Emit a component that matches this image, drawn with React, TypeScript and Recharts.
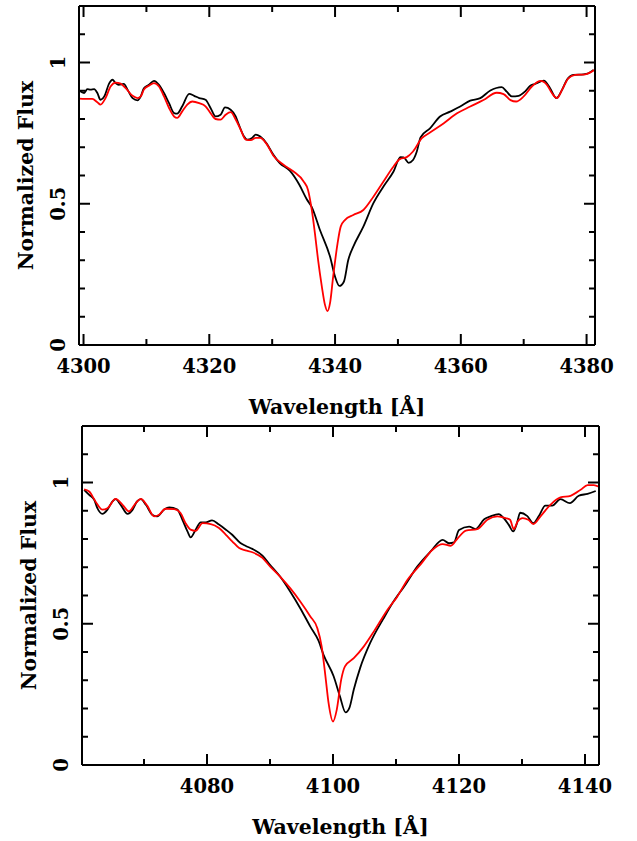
import React from 'react';
import { LineChart, Line, XAxis, YAxis } from 'recharts';

// ---------- Top panel (H-gamma region) ----------
const topObsWave = [
  4299.3, 4300.1, 4300.6, 4301.1, 4301.7, 4302.2, 4302.7, 4303.3, 4304.1, 4304.6,
  4305.1, 4305.6, 4306.4, 4307.0, 4307.8, 4308.6, 4309.1, 4309.6, 4310.4, 4311.2,
  4312.0, 4312.8, 4313.6, 4314.4, 4314.9, 4315.7, 4316.8, 4317.6, 4318.4, 4319.4,
  4320.2, 4321.0, 4321.8, 4322.5, 4323.4, 4324.2, 4324.7, 4325.5, 4326.0, 4326.8,
  4327.4, 4328.1, 4329.1, 4330.2, 4331.2, 4332.8, 4334.3, 4335.5, 4336.3, 4337.6,
  4339.2, 4340.0, 4340.7, 4341.4, 4342.1, 4342.9, 4344.5, 4346.1, 4347.7, 4349.3,
  4350.4, 4350.9, 4351.7, 4352.4, 4353.0, 4353.6, 4355.1, 4356.7, 4358.3, 4359.9,
  4361.5, 4363.1, 4364.7, 4366.5, 4367.3, 4368.1, 4369.2, 4370.2, 4371.0, 4371.8,
  4373.2, 4374.2, 4375.2, 4376.1, 4376.9, 4377.9, 4379.5, 4380.3, 4381.1,
];
const topObsFlux = [
  0.901, 0.892, 0.906, 0.904, 0.906, 0.892, 0.868, 0.880, 0.927, 0.939,
  0.927, 0.921, 0.924, 0.904, 0.874, 0.866, 0.880, 0.909, 0.921, 0.935,
  0.921, 0.892, 0.856, 0.821, 0.819, 0.845, 0.889, 0.882, 0.874, 0.868,
  0.839, 0.809, 0.815, 0.841, 0.833, 0.809, 0.780, 0.739, 0.727, 0.733,
  0.745, 0.738, 0.714, 0.673, 0.644, 0.617, 0.568, 0.516, 0.488, 0.407,
  0.313, 0.242, 0.209, 0.224, 0.301, 0.348, 0.419, 0.502, 0.561, 0.614,
  0.665, 0.664, 0.645, 0.655, 0.685, 0.735, 0.767, 0.809, 0.826, 0.844,
  0.865, 0.874, 0.901, 0.913, 0.897, 0.880, 0.882, 0.897, 0.917, 0.924,
  0.936, 0.909, 0.874, 0.903, 0.940, 0.956, 0.958, 0.962, 0.974,
];
const topModelWave = [
  4299.3, 4300.3, 4301.4, 4302.2, 4302.7, 4303.5, 4304.3, 4305.1, 4305.9, 4306.7,
  4307.8, 4308.6, 4309.1, 4309.6, 4310.4, 4311.2, 4312.0, 4312.8, 4313.6, 4314.4,
  4314.9, 4315.7, 4316.5, 4317.3, 4318.4, 4319.4, 4320.2, 4321.0, 4321.8, 4322.6,
  4323.4, 4324.2, 4325.0, 4325.8, 4326.6, 4327.4, 4328.1, 4329.1, 4330.2, 4331.8,
  4333.4, 4335.0, 4335.7, 4336.3, 4336.8, 4337.3, 4337.9, 4338.4, 4338.8, 4339.2,
  4339.7, 4340.4, 4340.9, 4341.6, 4342.9, 4344.5, 4346.1, 4347.7, 4349.3, 4350.3,
  4351.4, 4352.4, 4353.8, 4355.1, 4357.3, 4359.4, 4361.5, 4363.6, 4365.7, 4366.8,
  4367.9, 4368.8, 4370.0, 4371.3, 4372.7, 4373.7, 4374.5, 4375.3, 4376.1, 4377.1,
  4378.2, 4379.8, 4381.3,
];
const topModelFlux = [
  0.872, 0.871, 0.871, 0.859, 0.851, 0.874, 0.915, 0.929, 0.925, 0.909,
  0.882, 0.874, 0.880, 0.904, 0.918, 0.927, 0.915, 0.880, 0.839, 0.809,
  0.804, 0.827, 0.851, 0.862, 0.856, 0.845, 0.821, 0.800, 0.798, 0.815,
  0.824, 0.798, 0.762, 0.727, 0.725, 0.733, 0.733, 0.712, 0.670, 0.638,
  0.614, 0.579, 0.549, 0.478, 0.395, 0.301, 0.207, 0.142, 0.120, 0.148,
  0.242, 0.360, 0.419, 0.443, 0.460, 0.478, 0.525, 0.579, 0.632, 0.658,
  0.665, 0.685, 0.732, 0.752, 0.785, 0.820, 0.844, 0.867, 0.893, 0.888,
  0.867, 0.862, 0.880, 0.915, 0.935, 0.921, 0.891, 0.874, 0.903, 0.944,
  0.956, 0.958, 0.974,
];

// ---------- Bottom panel (H-delta region) ----------
const botObsWave = [
  4060.5, 4061.3, 4062.1, 4062.6, 4063.4, 4064.2, 4065.0, 4065.5, 4066.3, 4067.4,
  4068.2, 4068.9, 4069.5, 4070.3, 4071.3, 4072.1, 4073.2, 4074.0, 4075.3, 4076.1,
  4076.9, 4077.4, 4078.2, 4079.0, 4079.8, 4080.8, 4081.9, 4083.0, 4084.0, 4085.3,
  4086.1, 4087.2, 4088.8, 4090.0, 4091.6, 4093.2, 4094.8, 4096.4, 4097.7, 4098.5,
  4100.1, 4101.1, 4102.0, 4102.6, 4103.3, 4104.3, 4105.9, 4108.0, 4109.7, 4111.3,
  4113.4, 4115.5, 4117.4, 4118.4, 4119.2, 4120.0, 4121.6, 4122.6, 4124.0, 4125.0,
  4126.3, 4127.1, 4127.9, 4128.6, 4129.2, 4129.7, 4130.8, 4131.8, 4132.7, 4133.7,
  4134.8, 4136.1, 4137.6, 4139.0, 4140.4, 4141.7,
];
const botObsFlux = [
  0.974, 0.956, 0.939, 0.909, 0.889, 0.904, 0.933, 0.941, 0.921, 0.889,
  0.904, 0.933, 0.941, 0.921, 0.886, 0.880, 0.904, 0.912, 0.904, 0.868,
  0.827, 0.806, 0.833, 0.859, 0.859, 0.866, 0.851, 0.833, 0.815, 0.786,
  0.776, 0.765, 0.741, 0.709, 0.667, 0.614, 0.555, 0.490, 0.440, 0.390,
  0.314, 0.243, 0.186, 0.202, 0.267, 0.343, 0.432, 0.518, 0.582, 0.632,
  0.703, 0.756, 0.797, 0.785, 0.788, 0.832, 0.844, 0.835, 0.870, 0.880,
  0.888, 0.874, 0.850, 0.827, 0.856, 0.893, 0.882, 0.856, 0.882, 0.918,
  0.918, 0.941, 0.927, 0.953, 0.960, 0.970,
];
const botModelWave = [
  4060.5, 4061.3, 4062.3, 4063.4, 4064.2, 4065.5, 4066.6, 4067.6, 4068.7, 4069.5,
  4070.5, 4071.6, 4072.4, 4073.4, 4074.8, 4075.8, 4076.6, 4077.4, 4078.2, 4079.3,
  4080.6, 4081.9, 4083.0, 4084.0, 4085.1, 4086.1, 4087.2, 4088.8, 4090.0, 4091.6,
  4093.2, 4094.8, 4096.4, 4097.5, 4098.2, 4098.8, 4099.3, 4100.0, 4100.6, 4101.3,
  4101.9, 4103.3, 4104.9, 4106.5, 4108.6, 4110.2, 4111.8, 4113.9, 4115.8, 4117.4,
  4118.7, 4119.7, 4121.1, 4122.9, 4124.5, 4126.1, 4127.4, 4128.1, 4128.7, 4129.3,
  4130.1, 4131.0, 4131.8, 4133.0, 4134.5, 4136.1, 4137.7, 4139.3, 4140.4, 4141.4,
  4142.2,
];
const botModelFlux = [
  0.976, 0.968, 0.933, 0.904, 0.909, 0.942, 0.921, 0.898, 0.927, 0.942,
  0.918, 0.880, 0.886, 0.907, 0.906, 0.892, 0.856, 0.833, 0.829, 0.856,
  0.853, 0.839, 0.815, 0.792, 0.768, 0.760, 0.753, 0.733, 0.703, 0.667,
  0.626, 0.579, 0.526, 0.485, 0.420, 0.314, 0.219, 0.154, 0.196, 0.302,
  0.349, 0.378, 0.420, 0.473, 0.548, 0.596, 0.655, 0.710, 0.762, 0.782,
  0.776, 0.800, 0.830, 0.835, 0.868, 0.880, 0.874, 0.868, 0.835, 0.862,
  0.874, 0.868, 0.853, 0.882, 0.921, 0.947, 0.953, 0.974, 0.991, 0.991,
  0.985,
];

// ---------- Axes ----------
const topXDomain = [4299.28, 4381.34];
const botXDomain = [4060.16, 4142.22];
const topXTicks = [4300, 4310, 4320, 4330, 4340, 4350, 4360, 4370, 4380];
const botXTicks = [4070, 4080, 4090, 4100, 4110, 4120, 4130, 4140];
const yDomain = [0, 1.2];
const yTicks = [0, 0.1, 0.2, 0.3, 0.4, 0.5, 0.6, 0.7, 0.8, 0.9, 1.0, 1.1];
const xTitle = 'Wavelength [Å]';
const yTitle = 'Normalized Flux';

const FONT = "'DejaVu Serif', 'Liberation Serif', serif";
const TICK_FS = 19.5;
const TITLE_FS = 20.5;
const MAJOR = 11;
const MINOR = 6;
const FRAME = { stroke: '#000', strokeWidth: 2 };

const pair = (w: number[], f: number[]) => w.map((x, i) => ({ x, y: f[i] }));

const isMajorX = (v: number) => Math.round(v) % 20 === 0;
const isMajorY = (v: number) => Math.abs(v * 2 - Math.round(v * 2)) < 1e-6;
const fmtY = (v: number) => (Math.abs(v - 0.5) < 1e-6 ? '0.5' : String(Math.round(v)));

const BottomTick = (p: any) => {
  const { x, y, payload } = p;
  const major = isMajorX(payload.value);
  return (
    <g>
      <line x1={x} x2={x} y1={y} y2={y - (major ? MAJOR : MINOR)} stroke="#000" strokeWidth={2} />
      {major ? (
        <text x={x} y={y + 28} textAnchor="middle" fontFamily={FONT} fontWeight="bold" fontSize={TICK_FS} fill="#000">
          {payload.value}
        </text>
      ) : null}
    </g>
  );
};

const TopTick = (p: any) => {
  const { x, y, payload } = p;
  const major = isMajorX(payload.value);
  return <line x1={x} x2={x} y1={y} y2={y + (major ? MAJOR : MINOR)} stroke="#000" strokeWidth={2} />;
};

const LeftTick = (p: any) => {
  const { x, y, payload } = p;
  const major = isMajorY(payload.value);
  const bx = x - 14;
  return (
    <g>
      <line x1={x} x2={x + (major ? MAJOR : MINOR)} y1={y} y2={y} stroke="#000" strokeWidth={2} />
      {major ? (
        <text
          x={bx}
          y={y}
          transform={`rotate(-90 ${bx} ${y})`}
          textAnchor="middle"
          fontFamily={FONT}
          fontWeight="bold"
          fontSize={TICK_FS}
          fill="#000"
        >
          {fmtY(payload.value)}
        </text>
      ) : null}
    </g>
  );
};

const RightTick = (p: any) => {
  const { x, y, payload } = p;
  const major = isMajorY(payload.value);
  return <line x1={x} x2={x - (major ? MAJOR : MINOR)} y1={y} y2={y} stroke="#000" strokeWidth={2} />;
};

const XTitle = (props: any) => {
  const vb = props.viewBox || { x: 0, y: 0, width: 0, height: 0 };
  return (
    <text x={vb.x + vb.width / 2} y={vb.y + 68.5} textAnchor="middle" fontFamily={FONT} fontWeight="bold" fontSize={TITLE_FS} fill="#000">
      {xTitle}
    </text>
  );
};

const YTitle = (props: any) => {
  const vb = props.viewBox || { x: 0, y: 0, width: 0, height: 0 };
  const bx = vb.x + vb.width - 46;
  const cy = vb.y + vb.height / 2;
  return (
    <text x={bx} y={cy} transform={`rotate(-90 ${bx} ${cy})`} textAnchor="middle" fontFamily={FONT} fontWeight="bold" fontSize={TITLE_FS} fill="#000">
      {yTitle}
    </text>
  );
};

type PanelProps = {
  obs: { x: number; y: number }[];
  model: { x: number; y: number }[];
  domain: number[];
  xTicks: number[];
  top: number;
  height: number;
  left: number;
  right: number;
  xAxisH: number;
};

const Panel = ({ obs, model, domain, xTicks, top, height, left, right, xAxisH }: PanelProps) => (
  <div style={{ position: 'absolute', left: 0, top }}>
    <LineChart width={637} height={height} margin={{ top: 5, right, bottom: 0, left: 0 }}>
      <XAxis
        xAxisId="b"
        type="number"
        dataKey="x"
        domain={domain}
        allowDataOverflow
        ticks={xTicks}
        interval={0}
        tickSize={0}
        tickMargin={0}
        tickLine={false}
        axisLine={FRAME}
        tick={BottomTick}
        height={xAxisH}
        label={{ content: XTitle }}
      />
      <XAxis
        xAxisId="t"
        orientation="top"
        type="number"
        dataKey="x"
        domain={domain}
        allowDataOverflow
        ticks={xTicks}
        interval={0}
        tickSize={0}
        tickMargin={0}
        tickLine={false}
        axisLine={FRAME}
        tick={TopTick}
        height={1}
      />
      <YAxis
        yAxisId="l"
        type="number"
        domain={yDomain}
        allowDataOverflow
        ticks={yTicks}
        interval={0}
        tickSize={0}
        tickMargin={0}
        tickLine={false}
        axisLine={FRAME}
        tick={LeftTick}
        width={left}
        label={{ content: YTitle }}
      />
      <YAxis
        yAxisId="r"
        orientation="right"
        type="number"
        domain={yDomain}
        allowDataOverflow
        ticks={yTicks}
        interval={0}
        tickSize={0}
        tickMargin={0}
        tickLine={false}
        axisLine={FRAME}
        tick={RightTick}
        width={1}
      />
      <Line
        xAxisId="b"
        yAxisId="l"
        data={obs}
        dataKey="y"
        type="monotone"
        stroke="#000"
        strokeWidth={1.8}
        dot={false}
        activeDot={false}
        isAnimationActive={false}
      />
      <Line
        xAxisId="t"
        yAxisId="r"
        data={model}
        dataKey="y"
        type="monotone"
        stroke="#ff0000"
        strokeWidth={1.8}
        dot={false}
        activeDot={false}
        isAnimationActive={false}
      />
    </LineChart>
  </div>
);

export default function App() {
  return (
    <div style={{ position: 'absolute', left: 0, top: 0, width: 637, height: 841, background: '#fff' }}>
      <Panel
        obs={pair(topObsWave, topObsFlux)}
        model={pair(topModelWave, topModelFlux)}
        domain={topXDomain}
        xTicks={topXTicks}
        top={0}
        height={420}
        left={79}
        right={41}
        xAxisH={75}
      />
      <Panel
        obs={pair(botObsWave, botObsFlux)}
        model={pair(botModelWave, botModelFlux)}
        domain={botXDomain}
        xTicks={botXTicks}
        top={420}
        height={421}
        left={82}
        right={37}
        xAxisH={76}
      />
    </div>
  );
}
